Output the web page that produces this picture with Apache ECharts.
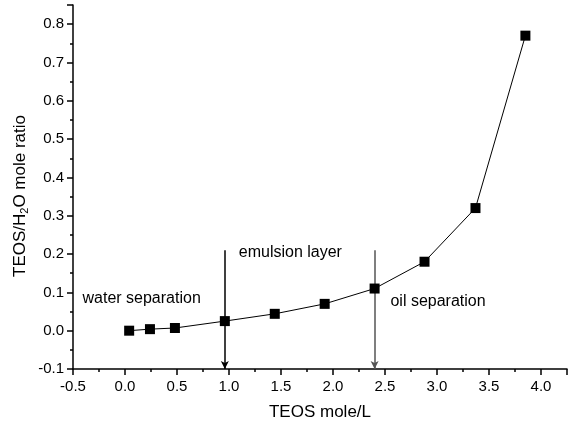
<!DOCTYPE html>
<html><head><meta charset="utf-8">
<script src="https://cdn.jsdelivr.net/npm/echarts@6/dist/echarts.min.js"></script>
<style>html,body{margin:0;padding:0;background:#fff}#c{width:569px;height:426px}</style>
</head><body><div id="c"></div>
<script>
var teos = [0.04, 0.24, 0.48, 0.96, 1.44, 1.92, 2.40, 2.88, 3.37, 3.85];
var ratio = [0.0, 0.004, 0.007, 0.025, 0.044, 0.07, 0.11, 0.18, 0.32, 0.77];
var boundaries = [0.96, 2.40];
var boundaryTop = 0.21;
var regionLabels = ['water separation', 'emulsion layer', 'oil separation'];
var regionPos = [[0.16, 0.085], [1.59, 0.204], [3.01, 0.075]];

var font = 'Liberation Sans, Arial, sans-serif';
var chart = echarts.init(document.getElementById('c'));
var pts = teos.map(function (x, i) { return [x, ratio[i]]; });
var lineColors = ['#000', '#555'];
var mlData = boundaries.map(function (b, i) {
  return [{ coord: [b, boundaryTop], lineStyle: { color: lineColors[i] } }, { coord: [b, -0.1] }];
});
var labelData = regionLabels.map(function (t, i) {
  return { name: t, value: regionPos[i] };
});
chart.setOption({
  animation: false,
  grid: { left: 73, right: 2, top: 5, bottom: 57 },
  graphic: [{
    type: 'text', x: 20, y: 196, rotation: Math.PI / 2, silent: true,
    style: {
      text: 'TEOS/H{sub|2}O mole ratio', fontFamily: font, fontSize: 17, fill: '#000',
      align: 'center', verticalAlign: 'middle',
      rich: { sub: { fontFamily: font, fontSize: 11, fill: '#000', padding: [9, 0, 0, 0] } }
    }
  }],
  xAxis: {
    type: 'value', min: -0.5, max: 4.25, interval: 0.5,
    name: 'TEOS mole/L', nameLocation: 'middle', nameGap: 35,
    nameTextStyle: { fontFamily: font, fontSize: 17, color: '#000' },
    axisLine: { onZero: false, lineStyle: { color: '#000', width: 1.5 } },
    axisTick: { length: 6, lineStyle: { color: '#000', width: 1.5 } },
    minorTick: { show: true, splitNumber: 2, length: 3, lineStyle: { color: '#000', width: 1.5 } },
    splitLine: { show: false },
    axisLabel: { fontFamily: font, fontSize: 15, color: '#000', margin: 10, showMaxLabel: false,
      formatter: function (v) { return v.toFixed(1); } }
  },
  yAxis: {
    type: 'value', min: -0.1, max: 0.85, interval: 0.1,
    axisLine: { onZero: false, lineStyle: { color: '#000', width: 1.5 } },
    axisTick: { length: 6, lineStyle: { color: '#000', width: 1.5 } },
    minorTick: { show: true, splitNumber: 2, length: 3, lineStyle: { color: '#000', width: 1.5 } },
    splitLine: { show: false },
    axisLabel: { fontFamily: font, fontSize: 15, color: '#000', margin: 9, showMaxLabel: false,
      formatter: function (v) { return v.toFixed(1); } }
  },
  series: [
    {
      type: 'line', data: pts, symbol: 'rect', symbolSize: 10,
      itemStyle: { color: '#000' }, lineStyle: { color: '#000', width: 1 },
      z: 5,
      markLine: {
        silent: true, symbol: ['none', 'arrow'], symbolSize: [6, 8],
        label: { show: false },
        lineStyle: { type: 'solid', width: 1.5, color: '#000' },
        data: mlData
      }
    },
    {
      type: 'scatter', data: labelData, symbolSize: 0, silent: true,
      itemStyle: { opacity: 1, color: '#000' },
      label: { show: true, position: 'inside', formatter: '{b}', fontFamily: font, fontSize: 16, color: '#000', opacity: 1 }
    }
  ]
});
</script></body></html>
